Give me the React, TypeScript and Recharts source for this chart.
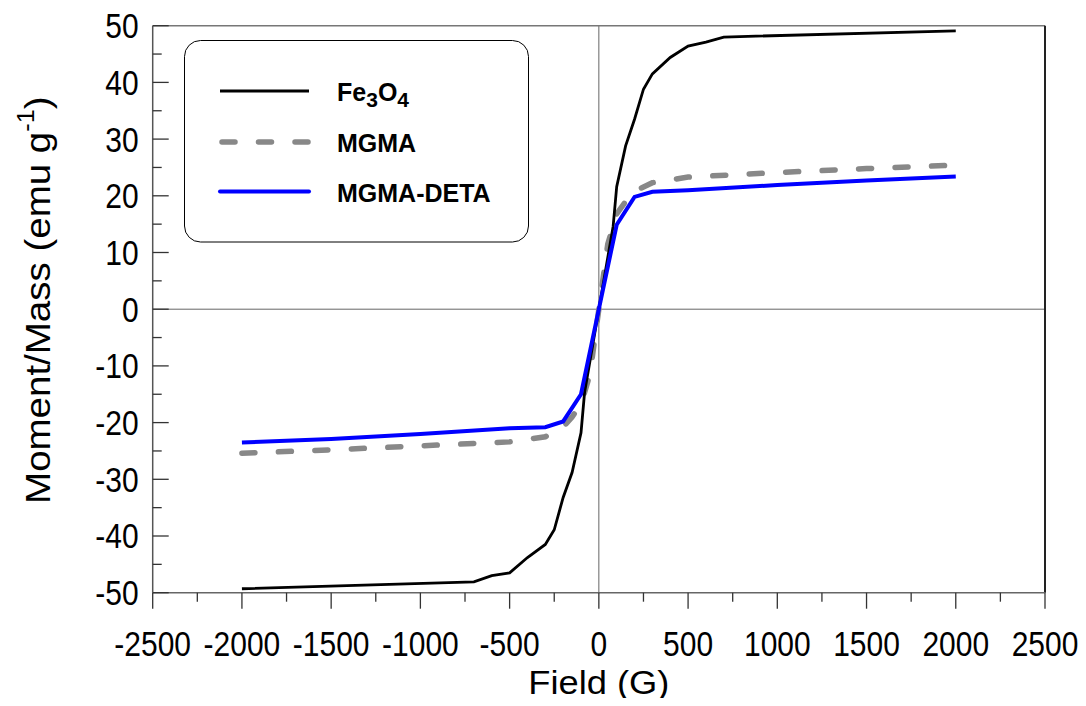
import React from 'react';
import { LineChart, Line, XAxis, YAxis, ReferenceLine, Label } from 'recharts';

// ---- data ----
const fe3o4Field = [-2000, -700, -600, -500, -400, -300, -250, -200, -150, -100, -80, 0, 80, 100, 150, 200, 250, 300, 400, 500, 600, 700, 2000];
const fe3o4Moment = [-49.3, -48.1, -47.0, -46.5, -43.8, -41.5, -38.9, -33.2, -28.8, -21.8, -14.7, 0, 14.6, 21.6, 28.8, 33.5, 38.8, 41.5, 44.4, 46.4, 47.1, 48.0, 49.1];

const mgmaField = [-2000, -1500, -1000, -500, -300, -200, -150, -100, -50, 0, 50, 100, 150, 200, 300, 500, 1000, 1500, 2000];
const mgmaMoment = [-25.4, -24.8, -24.1, -23.4, -22.5, -20.8, -19.0, -16.8, -11.5, 0, 11.5, 16.8, 19.0, 20.8, 22.3, 23.3, 24.1, 24.8, 25.4];

const detaField = [-2000, -1500, -1000, -500, -300, -200, -100, 0, 100, 200, 300, 500, 1000, 1500, 2000];
const detaMoment = [-23.5, -22.9, -22.0, -21.0, -20.8, -19.8, -15.0, 0, 14.9, 19.8, 20.7, 21.0, 21.9, 22.7, 23.4];

const xMajorTicks = [-2500, -2000, -1500, -1000, -500, 0, 500, 1000, 1500, 2000, 2500];
const xMinorTicks = [-2250, -1750, -1250, -750, -250, 250, 750, 1250, 1750, 2250];
const yMajorTicks = [-50, -40, -30, -20, -10, 0, 10, 20, 30, 40, 50];
const yMinorTicks = [-45, -35, -25, -15, -5, 5, 15, 25, 35, 45];

const seriesNames = ['Fe3O4', 'MGMA', 'MGMA-DETA'];

const toData = (xs: number[], ys: number[]) => xs.map((x, i) => ({ x, y: ys[i] }));
const fe3o4Data = toData(fe3o4Field, fe3o4Moment);
const mgmaData = toData(mgmaField, mgmaMoment);
const detaData = toData(detaField, detaMoment);

const xTicks = [...xMajorTicks, ...xMinorTicks].sort((a, b) => a - b);
const yTicks = [...yMajorTicks, ...yMinorTicks].sort((a, b) => a - b);

const FONT = '"Liberation Sans", Arial, sans-serif';
const DASH = '13 23.5';

const XTick = (props: any) => {
  const { x, y, payload } = props;
  const major = xMajorTicks.includes(payload.value);
  return (
    <g>
      <line x1={x} y1={y} x2={x} y2={y + (major ? 16 : 9)} stroke="#333" strokeWidth={1.3} />
      {major && (
        <g transform={`translate(${x},${y + 51}) scale(1,1.18)`}>
          <text x={0} y={0} textAnchor="middle" dominantBaseline="central" fontSize={30} fontFamily={FONT} fill="#000">
            {payload.value}
          </text>
        </g>
      )}
    </g>
  );
};

const YTick = (props: any) => {
  const { x, y, payload } = props;
  const major = yMajorTicks.includes(payload.value);
  return (
    <g>
      <line x1={x} y1={y} x2={x + (major ? 16 : 9)} y2={y} stroke="#333" strokeWidth={1.3} />
      {major && (
        <g transform={`translate(${x - 14},${y}) scale(1,1.18)`}>
          <text x={0} y={0} textAnchor="end" dominantBaseline="central" fontSize={30} fontFamily={FONT} fill="#000">
            {payload.value}
          </text>
        </g>
      )}
    </g>
  );
};

const YTitle = (props: any) => {
  const vb = props.viewBox || { x: 0, y: 0, width: 0, height: 0 };
  const cx = vb.x + vb.width - 115;
  const cy = vb.y + vb.height / 2 - 9;
  return (
    <g transform={`translate(${cx},${cy}) scale(1,1.1) rotate(-90)`}>
      <text x={0} y={0} textAnchor="middle" dominantBaseline="central" fontSize={35} fontFamily={FONT} fill="#000">
        Moment/Mass (emu g<tspan dy={-12} fontSize={23}>-1</tspan><tspan dy={12}>)</tspan>
      </text>
    </g>
  );
};

const XTitle = (props: any) => {
  const vb = props.viewBox || { x: 0, y: 0, width: 0 };
  const cx = vb.x + vb.width / 2;
  const baseline = vb.y + 101;
  return (
    <g transform={`translate(${cx},${baseline}) scale(1.1,1)`}>
      <text x={0} y={0} textAnchor="middle" fontSize={33} fontFamily={FONT} fill="#000">
        Field (G)
      </text>
    </g>
  );
};

const legendStyles = [
  { stroke: '#000000', width: 2.8, dash: undefined as string | undefined },
  { stroke: '#888888', width: 5.5, dash: DASH },
  { stroke: '#0000ff', width: 4, dash: undefined as string | undefined },
];

const LegendBox = () => {
  const rowsY = [51, 102, 151.6];
  return (
    <svg width={346} height={204} style={{ display: 'block' }}>
      <rect x={0.5} y={0.5} width={344} height={201.5} rx={16} ry={16} fill="#fff" stroke="#000" strokeWidth={1} />
      {seriesNames.map((name, i) => (
        <g key={name}>
          <line x1={i === 1 ? 38 : 36} x2={125} y1={rowsY[i]} y2={rowsY[i]} stroke={legendStyles[i].stroke} strokeWidth={legendStyles[i].width}
            strokeDasharray={legendStyles[i].dash} strokeLinecap={i === 0 ? 'butt' : 'round'} />
          {name === 'Fe3O4' ? (
            <text x={153} y={rowsY[i] + 10} fontSize={25} fontWeight="bold" fontFamily={FONT} fill="#000">
              Fe<tspan dy={6} fontSize={21}>3</tspan><tspan dy={-6} fontSize={25}>O</tspan><tspan dy={6} fontSize={21}>4</tspan>
            </text>
          ) : (
            <text x={153} y={rowsY[i] + 10} fontSize={25} fontWeight="bold" fontFamily={FONT} fill="#000">
              {name}
            </text>
          )}
        </g>
      ))}
    </svg>
  );
};

export default function App() {
  return (
    <div style={{ position: 'relative', width: 1086, height: 706, margin: -8, background: '#fff' }}>
      <LineChart width={1086} height={706} margin={{ top: 25.7, right: 41, bottom: 53.3, left: 92.7 }}>
        <XAxis
          dataKey="x"
          type="number"
          domain={[-2500, 2500]}
          ticks={xTicks}
          interval={0}
          height={60}
          tickSize={0}
          tickMargin={0}
          tickLine={false}
          tick={<XTick />}
          axisLine={{ stroke: '#666', strokeWidth: 1.5 }}
          allowDataOverflow
        >
          <Label content={<XTitle />} />
        </XAxis>
        <YAxis
          dataKey="y"
          type="number"
          domain={[-50, 50]}
          ticks={yTicks}
          interval={0}
          width={60}
          tickSize={0}
          tickMargin={0}
          tickLine={false}
          tick={<YTick />}
          axisLine={{ stroke: '#555', strokeWidth: 1.5 }}
          allowDataOverflow
        >
          <Label content={<YTitle />} />
        </YAxis>
        <ReferenceLine y={0} stroke="#666" strokeWidth={1} />
        <ReferenceLine x={0} stroke="#666" strokeWidth={1} />
        <ReferenceLine y={50} stroke="#777" strokeWidth={1.5} />
        <ReferenceLine x={2500} stroke="#222" strokeWidth={2} />
        <Line data={mgmaData} dataKey="y" name="MGMA" type="linear" stroke="#888888" strokeWidth={5.5}
          strokeDasharray={DASH} strokeLinecap="round" dot={false} activeDot={false} isAnimationActive={false} />
        <Line data={fe3o4Data} dataKey="y" name="Fe3O4" type="linear" stroke="#000000" strokeWidth={2.8}
          dot={false} activeDot={false} isAnimationActive={false} />
        <Line data={detaData} dataKey="y" name="MGMA-DETA" type="linear" stroke="#0000ff" strokeWidth={4}
          dot={false} activeDot={false} isAnimationActive={false} />
      </LineChart>
      <div style={{ position: 'absolute', left: 184, top: 40, width: 346, height: 204 }}>
        <LegendBox />
      </div>
    </div>
  );
}
